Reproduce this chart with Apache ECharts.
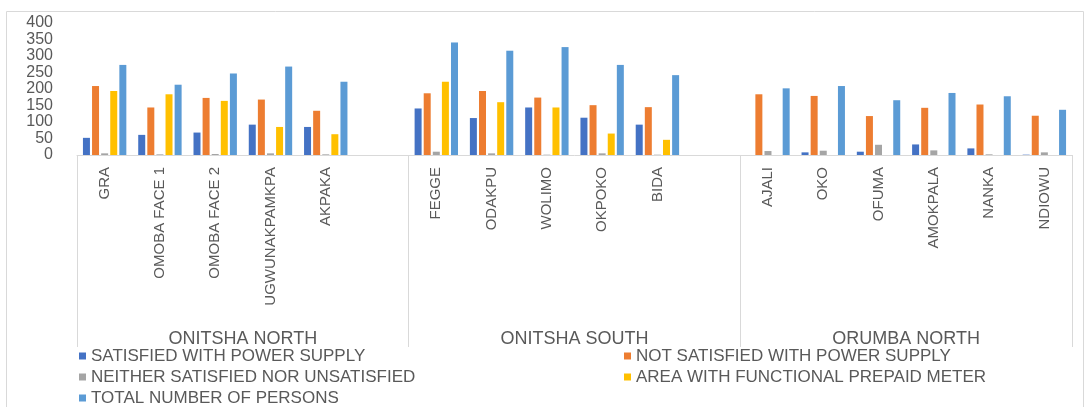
<!DOCTYPE html>
<html>
<head>
<meta charset="utf-8">
<script src="https://cdn.jsdelivr.net/npm/echarts@6/dist/echarts.min.js"></script>
<style>
  html, body { margin: 0; padding: 0; background: #fff; }
  #chart { width: 1092px; height: 407px; }
</style>
</head>
<body>
<div id="chart"></div>
<script>
  // inner level of the axis, '' marks the empty slot closing a group
  const places = ['GRA', 'OMOBA FACE 1', 'OMOBA FACE 2', 'UGWUNAKPAMKPA', 'AKPAKA', '',
    'FEGGE', 'ODAKPU', 'WOLIMO', 'OKPOKO', 'BIDA', '',
    'AJALI', 'OKO', 'OFUMA', 'AMOKPALA', 'NANKA', 'NDIOWU']
  const groups = ['ONITSHA NORTH', 'ONITSHA SOUTH', 'ORUMBA NORTH']
  const yTicks = [0, 50, 100, 150, 200, 250, 300, 350, 400]

  const satisfied = [52, 61, 68, 92, 85, '-', 141, 112, 144, 113, 92, '-', 0, 8, 10, 32, 20, 1]
  const notSatisfied = [209, 144, 173, 168, 134, '-', 187, 194, 174, 151, 145, '-', 184, 179, 118, 143, 153, 119]
  const neither = [5, 2, 3, 5, 2, '-', 10, 5, 1, 5, 1, '-', 12, 13, 31, 14, 2, 8]
  const prepaid = [194, 184, 164, 85, 63, '-', 222, 160, 144, 65, 46, '-', 0, 0, 0, 0, 0, 0]
  const totalPersons = [273, 213, 247, 268, 222, '-', 341, 316, 327, 273, 242, '-', 202, 209, 166, 188, 178, 137]

  const names = ['SATISFIED WITH POWER SUPPLY', 'NOT SATISFIED WITH POWER SUPPLY',
    'NEITHER SATISFIED NOR UNSATISFIED', 'AREA WITH FUNCTIONAL PREPAID METER',
    'TOTAL NUMBER OF PERSONS']
  const colors = ['#4472C4', '#ED7D31', '#A5A5A5', '#FFC000', '#5B9BD5']
  const values = [satisfied, notSatisfied, neither, prepaid, totalPersons]

  const font = 'Liberation Sans'
  const grey = '#595959'
  const chart = echarts.init(document.getElementById('chart'))

  // legend laid out in two columns, one item per legend box
  const legendPos = [[79, 347], [624, 347], [79, 368], [624, 368], [79, 389]]
  const legends = names.map((name, i) => ({
    left: legendPos[i][0],
    top: legendPos[i][1],
    data: [name],
    icon: 'rect',
    itemWidth: 7,
    itemHeight: 7,
    itemGap: 0,
    padding: 0,
    textStyle: { fontFamily: font, fontSize: 17, color: grey, lineHeight: 18 }
  }))

  chart.setOption({
    animation: false,
    color: colors,
    textStyle: { fontFamily: font },
    graphic: [{
      type: 'rect',
      shape: { x: 6.5, y: 11.5, width: 1077, height: 420 },
      style: { fill: 'none', stroke: '#D9D9D9', lineWidth: 1 },
      silent: true
    }],
    legend: legends,
    grid: { left: 77, right: 20, top: 23, height: 132 },
    xAxis: [{
      type: 'category',
      data: places,
      axisLine: { lineStyle: { color: '#D9D9D9' } },
      axisTick: { show: false },
      axisLabel: {
        interval: 0,
        rotate: 90,
        margin: 12,
        fontSize: 15,
        color: grey,
        fontFamily: font
      }
    }, {
      type: 'category',
      data: groups,
      position: 'bottom',
      axisLine: { show: false },
      axisTick: { show: true, length: 192, lineStyle: { color: '#D9D9D9' } },
      axisLabel: { margin: 175, fontSize: 18, color: grey, fontFamily: font }
    }],
    yAxis: {
      type: 'value',
      min: yTicks[0],
      max: yTicks[yTicks.length - 1],
      interval: yTicks[1] - yTicks[0],
      axisLine: { show: false },
      axisTick: { show: false },
      splitLine: { show: false },
      axisLabel: { margin: 24, fontSize: 16, color: grey, fontFamily: font }
    },
    series: names.map((name, i) => ({
      name: name,
      type: 'bar',
      xAxisIndex: 0,
      data: values[i],
      barWidth: 7,
      barGap: '30%'
    }))
  })
</script>
</body>
</html>
